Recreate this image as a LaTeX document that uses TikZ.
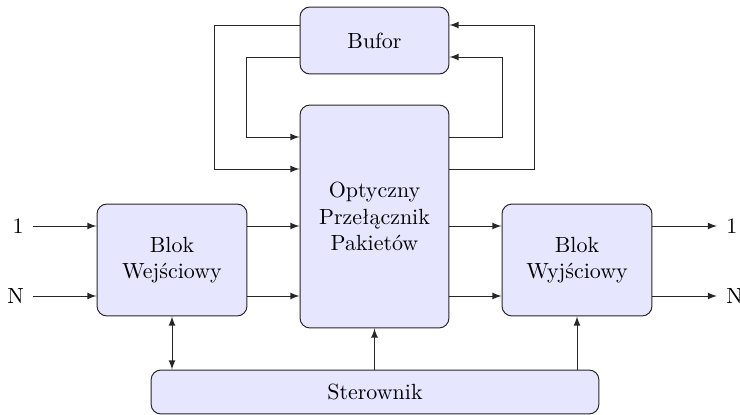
\documentclass[tikz,border=0pt]{standalone}
\usepackage{fontspec}
\setmainfont{Latin Modern Roman}
\usetikzlibrary{calc}
\definecolor{boxfill}{RGB}{230,230,255}
\tikzset{
  block/.style={draw=black!85, fill=boxfill, rounded corners=4.5pt, align=center,
                inner sep=0pt, line width=0.45pt},
  link/.style={draw=black!85, line width=0.45pt, ->, >=latex},
  both/.style={draw=black!85, line width=0.45pt, <->, >=latex}
}
\begin{document}
\begin{tikzpicture}[x=0.016cm, y=-0.016cm]
\useasboundingbox (0,0) rectangle (740,415);

% blocks
\node[block, minimum width=2.384cm, minimum height=1.072cm] (bufor) at (374.5,40.5) {Bufor};
\node[block, minimum width=2.384cm, minimum height=3.568cm] (sw) at (374.5,216.5)
  {Optyczny\\Przełącznik\\Pakietów};
\node[block, minimum width=2.4cm, minimum height=1.792cm] (wej) at (172,260) {Blok\\Wejściowy};
\node[block, minimum width=2.4cm, minimum height=1.792cm] (wyj) at (577,260) {Blok\\Wyjściowy};
\node[block, minimum width=7.168cm, minimum height=0.704cm] (ster) at (375,392) {Sterownik};

% lane levels
\coordinate (lA) at (0,25);
\coordinate (lB) at (0,57);
\coordinate (lC) at (0,137);
\coordinate (lD) at (0,169);
\coordinate (l1) at (0,226);
\coordinate (lN) at (0,296);

% buffer loops
\draw[link] (bufor.west |- lA) -- ++(-85,0) |- (sw.west |- lD);
\draw[link] (bufor.west |- lB) -- ++(-53,0) |- (sw.west |- lC);
\draw[link] (sw.east |- lC) -- ++(53,0) |- (bufor.east |- lB);
\draw[link] (sw.east |- lD) -- ++(85,0) |- (bufor.east |- lA);

% inputs and outputs
\coordinate (in1) at (33,226);
\coordinate (inN) at (33,296);
\coordinate (out1) at (717,226);
\coordinate (outN) at (717,296);
\draw[link] (in1) node[left, inner sep=4pt] {1} -- (wej.west |- in1);
\draw[link] (inN) node[left, inner sep=4pt] {N} -- (wej.west |- inN);
\draw[link] (wyj.east |- out1) -- (out1) node[right, inner sep=4pt] {1};
\draw[link] (wyj.east |- outN) -- (outN) node[right, inner sep=4pt] {N};

% data paths through the switch
\draw[link] (wej.east |- l1) -- (sw.west |- l1);
\draw[link] (wej.east |- lN) -- (sw.west |- lN);
\draw[link] (sw.east |- l1) -- (wyj.west |- l1);
\draw[link] (sw.east |- lN) -- (wyj.west |- lN);

% control lines
\draw[both] (ster.north -| wej.south) -- (wej.south);
\draw[link] (ster.north -| sw.south) -- (sw.south);
\draw[link] (ster.north -| wyj.south) -- (wyj.south);
\end{tikzpicture}
\end{document}
